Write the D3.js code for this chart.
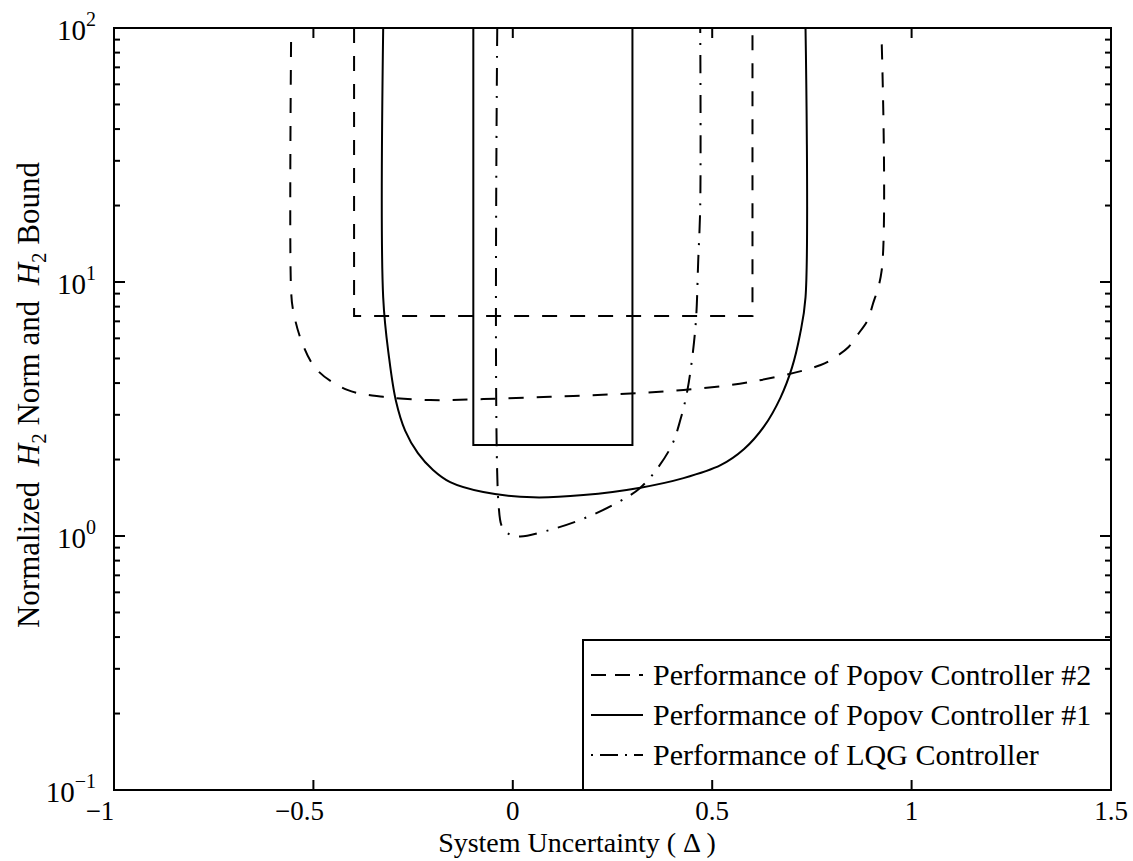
<!DOCTYPE html>
<html><head><meta charset="utf-8">
<script src="https://cdn.jsdelivr.net/npm/d3@7"></script>
<style>
body{margin:0;background:#fff}
svg text{font-family:"Liberation Serif","Times New Roman",serif;fill:#000}
</style>
</head><body>
<svg id="chart" width="1133" height="861"></svg>
<script>
// ---------- data ----------
const xTicks = [-1, -0.5, 0, 0.5, 1, 1.5];
const xTickLabels = ["\u22121", "\u22120.5", "0", "0.5", "1", "1.5"];
const yTicks = [0.1, 1, 10, 100];
const yTickExponents = ["\u22121", "0", "1", "2"];

// Popov controller #2 : H2 norm curve (dashed)
const popov2CurveX = [-0.556, -0.556, -0.551, -0.528, -0.491, -0.415, -0.325, -0.207, -0.074, 0.094, 0.262, 0.428, 0.600, 0.772, 0.809, 0.842, 0.864, 0.890, 0.902, 0.925, 0.925];
const popov2CurveY = [88, 9.3, 7.76, 5.75, 4.51, 3.76, 3.53, 3.43, 3.46, 3.53, 3.62, 3.76, 4.05, 4.71, 5.07, 5.55, 6.18, 7.08, 8.1, 11.1, 88];
// Popov controller #2 : H2 bound (dashed)
const popov2BoundX = [-0.398, -0.398, 0.601, 0.601];
const popov2BoundY = [100, 7.35, 7.35, 100];

// Popov controller #1 : H2 norm curve (solid)
const popov1CurveX = [-0.325, -0.325, -0.310, -0.293, -0.270, -0.238, -0.200, -0.157, -0.074, 0.051, 0.177, 0.320, 0.428, 0.521, 0.580, 0.630, 0.671, 0.700, 0.720, 0.734, 0.734];
const popov1CurveY = [100, 8.7, 5.0, 3.4, 2.60, 2.12, 1.82, 1.63, 1.49, 1.42, 1.45, 1.55, 1.69, 1.90, 2.20, 2.70, 3.50, 4.60, 6.2, 8.7, 100];
// Popov controller #1 : H2 bound (solid)
const popov1BoundX = [-0.099, -0.099, 0.300, 0.300];
const popov1BoundY = [100, 2.28, 2.28, 100];

// LQG controller (dash-dot)
const lqgX = [-0.039, -0.036, -0.026, -0.006, 0.019, 0.087, 0.177, 0.265, 0.320, 0.363, 0.400, 0.420, 0.438, 0.458, 0.465, 0.470, 0.470];
const lqgY = [100, 1.35, 1.08, 1.01, 0.995, 1.05, 1.17, 1.36, 1.55, 1.85, 2.30, 2.86, 3.76, 6.65, 12.2, 20, 100];

const legendLabels = ["Performance of Popov Controller #2", "Performance of Popov Controller #1", "Performance of LQG Controller"];

// ---------- layout ----------
const L = 114, R = 1111, T = 28, B = 790;
const svg = d3.select("#chart");
svg.append("rect").attr("width", 1133).attr("height", 861).attr("fill", "#fff");

const x = d3.scaleLinear().domain([-1, 1.5]).range([L, R]);
const y = d3.scaleLog().domain([0.1, 100]).range([B, T]);

svg.append("clipPath").attr("id", "clip").append("rect")
  .attr("x", L).attr("y", T).attr("width", R - L).attr("height", B - T);

const DASH = "15,13", DASHDOT = "18,10,2,10";
const zip = (xs, ys) => xs.map((v, i) => [v, ys[i]]);
const smooth = d3.line().x(d => x(d[0])).y(d => y(d[1])).curve(d3.curveCatmullRom.alpha(0.5));
const straight = d3.line().x(d => x(d[0])).y(d => y(d[1]));

const plot = svg.append("g").attr("clip-path", "url(#clip)");
const series = [
  {d: zip(popov2CurveX, popov2CurveY), gen: smooth, dash: DASH},
  {d: zip(popov2BoundX, popov2BoundY), gen: straight, dash: DASH},
  {d: zip(popov1CurveX, popov1CurveY), gen: smooth, dash: null},
  {d: zip(popov1BoundX, popov1BoundY), gen: straight, dash: null},
  {d: zip(lqgX, lqgY), gen: smooth, dash: DASHDOT}
];
series.forEach(s => {
  plot.append("path").attr("d", s.gen(s.d)).attr("fill", "none")
    .attr("stroke", "#000").attr("stroke-width", 2)
    .attr("stroke-dasharray", s.dash);
});

// ---------- legend ----------
const lg = svg.append("g");
lg.append("rect").attr("x", 583).attr("y", 640).attr("width", R - 583).attr("height", B - 640)
  .attr("fill", "#fff").attr("stroke", "#000").attr("stroke-width", 2);
const legendBase = [685, 725, 765];
legendLabels.forEach((t, i) => {
  lg.append("line").attr("x1", 591).attr("x2", 643)
    .attr("y1", legendBase[i] - 10).attr("y2", legendBase[i] - 10)
    .attr("stroke", "#000").attr("stroke-width", 2)
    .attr("stroke-dasharray", i === 0 ? "15,9" : (i === 2 ? "2,7,18,7" : null));
  lg.append("text").attr("x", 653).attr("y", legendBase[i])
    .attr("font-size", 30).text(t);
});

// ---------- axes ----------
const ax = svg.append("g").attr("stroke", "#000").attr("stroke-width", 2);
ax.append("rect").attr("x", L).attr("y", T).attr("width", R - L).attr("height", B - T).attr("fill", "none");

xTicks.forEach(v => {
  ax.append("line").attr("x1", x(v)).attr("x2", x(v)).attr("y1", B).attr("y2", B - 10);
  ax.append("line").attr("x1", x(v)).attr("x2", x(v)).attr("y1", T).attr("y2", T + 10);
});
const minor = [];
[0.1, 1, 10].forEach(d => { for (let k = 2; k <= 9; k++) minor.push(d * k); });
yTicks.forEach(v => {
  ax.append("line").attr("x1", L).attr("x2", L + 11).attr("y1", y(v)).attr("y2", y(v));
  ax.append("line").attr("x1", R).attr("x2", R - 11).attr("y1", y(v)).attr("y2", y(v));
});
minor.forEach(v => {
  ax.append("line").attr("x1", L).attr("x2", L + 6).attr("y1", y(v)).attr("y2", y(v));
  ax.append("line").attr("x1", R).attr("x2", R - 6).attr("y1", y(v)).attr("y2", y(v));
});

// tick labels
xTicks.forEach((v, i) => {
  svg.append("text").attr("x", x(v) - (v < 0 ? 14 : 0)).attr("y", 820).attr("text-anchor", "middle")
    .attr("font-size", 27).text(xTickLabels[i]);
});
yTicks.forEach((v, i) => {
  const t = svg.append("text").attr("x", 96).attr("y", y(v) + 12).attr("text-anchor", "end").attr("font-size", 29);
  t.append("tspan").text("10");
  t.append("tspan").attr("dy", -14).attr("font-size", 20).text(yTickExponents[i]);
});

// axis labels
svg.append("text").attr("x", 577).attr("y", 852).attr("text-anchor", "middle")
  .attr("font-size", 28).text("System Uncertainty ( \u0394 )");

const yl = svg.append("text").attr("transform", "translate(39,395) rotate(-90)")
  .attr("text-anchor", "middle").attr("font-size", 31);
yl.append("tspan").text("Normalized\u00a0\u00a0");
yl.append("tspan").attr("font-style", "italic").text("H");
yl.append("tspan").attr("font-size", 21).attr("dy", 7).text("2");
yl.append("tspan").attr("dy", -7).text(" Norm and\u00a0\u00a0");
yl.append("tspan").attr("font-style", "italic").text("H");
yl.append("tspan").attr("font-size", 21).attr("dy", 7).text("2");
yl.append("tspan").attr("dy", -7).text(" Bound");
</script>
</body></html>
